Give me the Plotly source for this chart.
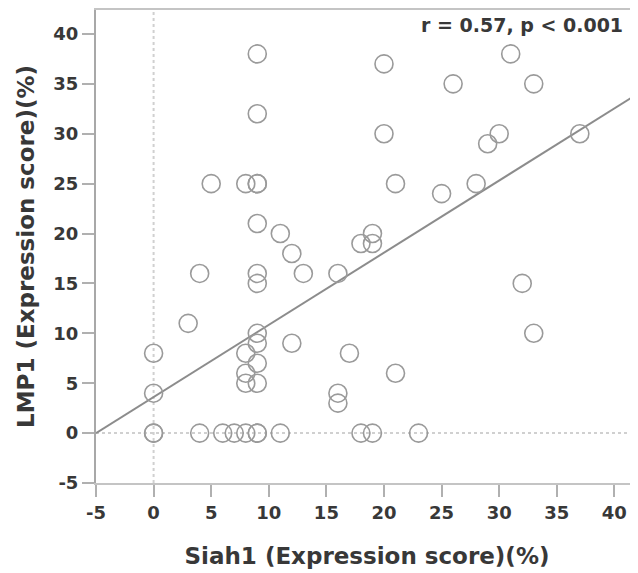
import plotly.graph_objects as go

# Siah1 (x) and LMP1 (y) expression scores
siah1 = [9, 20, 31, 26, 33, 9, 20, 30, 29, 37,
         5, 8, 9, 9, 21, 25, 28,
         9, 11, 19, 18, 19, 12,
         4, 9, 9, 13, 16, 32,
         3, 9, 33, 9, 12, 0, 8, 17, 9, 8, 21, 8, 9,
         0, 16, 16,
         0, 0, 4, 6, 7, 8, 9, 9, 11, 18, 19, 23]
lmp1 = [38, 37, 38, 35, 35, 32, 30, 30, 29, 30,
        25, 25, 25, 25, 25, 24, 25,
        21, 20, 20, 19, 19, 18,
        16, 16, 15, 16, 16, 15,
        11, 10, 10, 9, 9, 8, 8, 8, 7, 6, 6, 5, 5,
        4, 4, 3,
        0, 0, 0, 0, 0, 0, 0, 0, 0, 0, 0, 0]

# Fitted regression line
fit_intercept = 3.62
fit_slope = 0.723
x_range = [-5, 42.05]
y_range = [-5, 42.4]
tick_vals = [-5, 0, 5, 10, 15, 20, 25, 30, 35, 40]
tick_text = ["-5", "0", "5", "10", "15", "20", "25", "30", "35", "40"]
stat_text = "r = 0.57, p < 0.001"
x_title = "Siah1 (Expression score)(%)"
y_title = "LMP1 (Expression score)(%)"

FONT = "DejaVu Sans, Verdana, sans-serif"
TXT = "#383838"

# the page body adds an 8px offset, so margins are set to compensate
ML, MT, MR, MB = 88, 2, 8, 98
W, H = 638, 573
plot_w = W - ML - MR
plot_h = H - MT - MB

fig = go.Figure()

# reference lines at 0
fig.add_trace(go.Scatter(x=[0, 0], y=y_range, mode="lines",
                         line=dict(color="#d0d0d0", width=2, dash="dot"),
                         hoverinfo="skip", showlegend=False))
fig.add_trace(go.Scatter(x=x_range, y=[0, 0], mode="lines",
                         line=dict(color="#d0d0d0", width=2, dash="dot"),
                         hoverinfo="skip", showlegend=False))

# regression line
fit_x = x_range
fit_y = [fit_intercept + fit_slope * v for v in fit_x]
fig.add_trace(go.Scatter(x=fit_x, y=fit_y, mode="lines",
                         line=dict(color="#8c8c8c", width=2),
                         hoverinfo="skip", showlegend=False))

# points
fig.add_trace(go.Scatter(x=siah1, y=lmp1, mode="markers",
                         marker=dict(symbol="circle-open", size=18,
                                     color="#9a9a9a", line=dict(width=1.6, color="#9a9a9a")),
                         showlegend=False))

fig.add_annotation(text=stat_text, xref="paper", yref="paper",
                   x=(617 - ML) / plot_w, y=(H - MB - 17) / plot_h,
                   xanchor="right", yanchor="middle",
                   showarrow=False,
                   font=dict(family=FONT, size=19, color=TXT, weight="bold"))

axis_common = dict(tickvals=tick_vals, ticktext=tick_text, showgrid=False, zeroline=False,
                   showline=True, linewidth=2, automargin=False,
                   ticks="outside", ticklen=12, tickwidth=2, tickcolor="#b0b0b0",
                   tickfont=dict(family=FONT, size=18, color=TXT, weight="bold"))

fig.update_layout(
    width=W, height=H,
    margin=dict(l=ML, r=MR, t=MT, b=MB, autoexpand=False),
    plot_bgcolor="white", paper_bgcolor="white",
    font=dict(family=FONT, color=TXT),
    xaxis=dict(range=x_range, linecolor="#c4c4c4", mirror=True,
               title=dict(text=x_title, standoff=26,
                          font=dict(family=FONT, size=23, color=TXT, weight="bold")),
               **axis_common),
    yaxis=dict(range=y_range, linecolor="#a8a8a8",
               title=dict(text=y_title, standoff=12,
                          font=dict(family=FONT, size=23, color=TXT, weight="bold")),
               **axis_common),
)

fig.write_html("out.html")
